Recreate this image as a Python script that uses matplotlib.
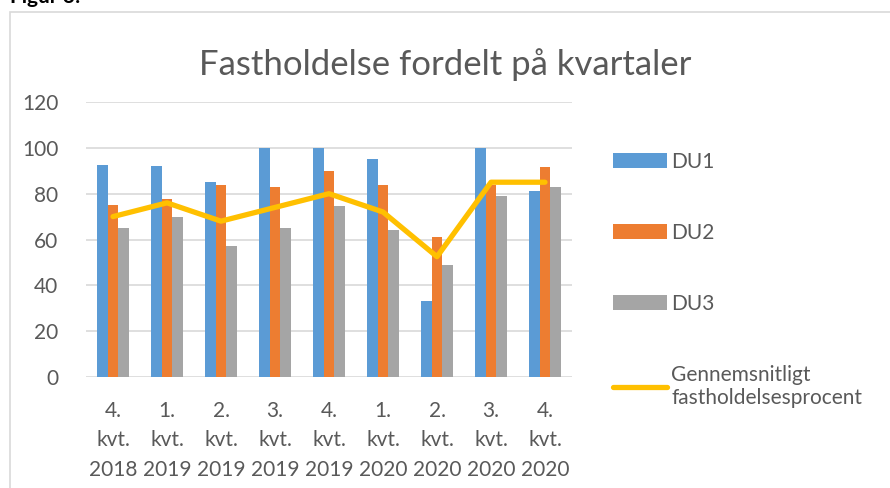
import matplotlib.pyplot as plt
import numpy as np
from matplotlib.patches import Rectangle

plt.rcParams['font.family'] = ['Lato', 'DejaVu Sans']

quarters = ['4.\nkvt.\n2018', '1.\nkvt.\n2019', '2.\nkvt.\n2019', '3.\nkvt.\n2019', '4.\nkvt.\n2019',
            '1.\nkvt.\n2020', '2.\nkvt.\n2020', '3.\nkvt.\n2020', '4.\nkvt.\n2020']
du1 = [92.5, 92, 85, 100, 100, 95, 33, 100, 81]
du2 = [75, 77.5, 84, 83, 90, 84, 61, 84, 91.5]
du3 = [65, 70, 57, 65, 74.5, 64, 49, 79, 83]
avg = [70, 76, 68, 74, 80, 72, 52.5, 85, 85]

text_col = '#595959'
grid_col = '#D9D9D9'

fig = plt.figure(figsize=(8.9, 4.88), dpi=100)

# outer frame of the chart box (partly outside the picture)
fig.patches.append(Rectangle((10 / 890, -0.1), 1.0, 1 - 12 / 488 + 0.1, transform=fig.transFigure,
                             fill=False, edgecolor=grid_col, linewidth=1.2))
fig.text(10 / 890, 1 - 3 / 488, 'Figur 3:', fontsize=15, fontweight='bold', va='baseline', ha='left')

ax = fig.add_axes([86 / 890, 1 - 377 / 488, (572 - 86) / 890, (377 - 102) / 488])
x = np.arange(len(quarters))
w = 0.193
b1 = ax.bar(x - w, du1, w, color='#5B9BD5', label='DU1', zorder=2)
b2 = ax.bar(x, du2, w, color='#ED7D31', label='DU2', zorder=2)
b3 = ax.bar(x + w, du3, w, color='#A5A5A5', label='DU3', zorder=2)
ln, = ax.plot(x, avg, color='#FFC000', linewidth=3.8, solid_capstyle='round', solid_joinstyle='round',
              label='Gennemsnitligt\nfastholdelsesprocent', zorder=3)

ax.set_xlim(-0.5, len(quarters) - 0.5)
ax.set_ylim(0, 120)
ax.set_yticks(range(0, 121, 20))
ax.set_xticks(x)
ax.set_xticklabels(quarters, linespacing=1.6)
ax.grid(axis='y', color=grid_col, linewidth=1.2, zorder=0)
for s in ax.spines.values():
    s.set_visible(False)
ax.tick_params(axis='both', length=0, labelsize=15, labelcolor=text_col)
ax.tick_params(axis='y', pad=20)
ax.tick_params(axis='x', pad=17)

fig.text(0.5, 1 - 65 / 488, 'Fastholdelse fordelt på kvartaler', fontsize=25, color=text_col,
         ha='center', va='center')

fig.legend(handles=[b1, b2, b3, ln], loc='upper left', bbox_to_anchor=(594 / 890, 1 - 133 / 488),
           frameon=False, fontsize=15, labelcolor=text_col, handlelength=2.6, handleheight=0.7,
           labelspacing=2.45, handletextpad=0.2)

fig.savefig('out.png', dpi=100)
